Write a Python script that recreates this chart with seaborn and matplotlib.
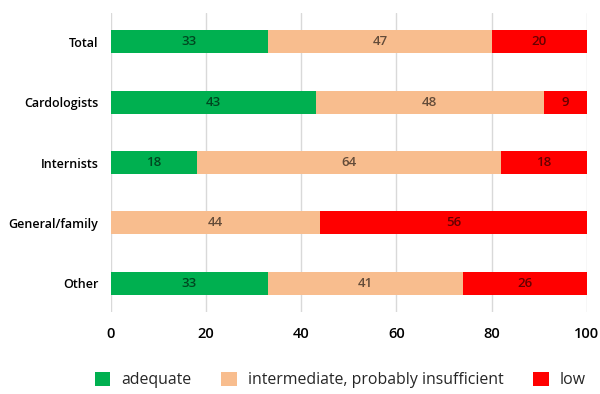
import matplotlib
matplotlib.use("Agg")
import matplotlib.pyplot as plt
import seaborn as sns
import pandas as pd
import numpy as np
from matplotlib.patches import Patch

categories = ["Total", "Cardologists", "Internists", "General/family", "Other"]
adequate = [33, 43, 18, 0, 33]
intermediate = [47, 48, 64, 44, 41]
low = [20, 9, 18, 56, 26]
series_names = ["adequate", "intermediate, probably insufficient", "low"]
colors = ["#00b050", "#f8bd8e", "#ff0000"]

sns.set_theme(style="white")
plt.rcParams['font.family'] = ['Open Sans', 'DejaVu Sans']

fig = plt.figure(figsize=(6, 3.94), dpi=100)
ax = fig.add_axes([0.185, 0.208, 0.793, 0.759])

vals = np.array([adequate, intermediate, low], dtype=float)
cum = np.cumsum(vals, axis=0)

# draw from the longest cumulative bar down so segments stack
for i in [2, 1, 0]:
    df = pd.DataFrame({"cat": categories, "val": cum[i]})
    sns.barplot(data=df, x="val", y="cat", orient="h", color=colors[i],
                saturation=1, width=0.38, ax=ax, zorder=3, linewidth=0)

for j, cat in enumerate(categories):
    for i in range(3):
        v = vals[i, j]
        if v <= 0:
            continue
        left = cum[i, j] - v
        ax.text(left + v / 2, j, f"{int(v)}", ha="center", va="center",
                fontsize=9.5, fontweight="semibold", color="black", alpha=0.6, zorder=5)

ax.set_xlim(0, 100)
ax.set_ylim(4.48, -0.48)
ax.set_xticks(range(0, 101, 20))
ax.xaxis.grid(True, color="#d9d9d9", linewidth=1, zorder=0)
ax.set_axisbelow(True)
for s in ax.spines.values():
    s.set_visible(False)
ax.set_xlabel("")
ax.set_ylabel("")
ax.tick_params(axis="both", length=0, colors="#000000")
ax.tick_params(axis="x", pad=11, labelsize=10.5)
ax.tick_params(axis="y", pad=9, labelsize=9)
for lab in ax.get_xticklabels() + ax.get_yticklabels():
    lab.set_fontweight("semibold")

handles = [Patch(facecolor=c, edgecolor="none") for c in colors]
fig.legend(handles, series_names, loc="center", bbox_to_anchor=(0.567, 0.035),
           ncol=3, frameon=False, fontsize=11.4, handlelength=1.0, handleheight=1.0,
           columnspacing=1.85, handletextpad=0.7)

fig.savefig("out.png", dpi=100)
